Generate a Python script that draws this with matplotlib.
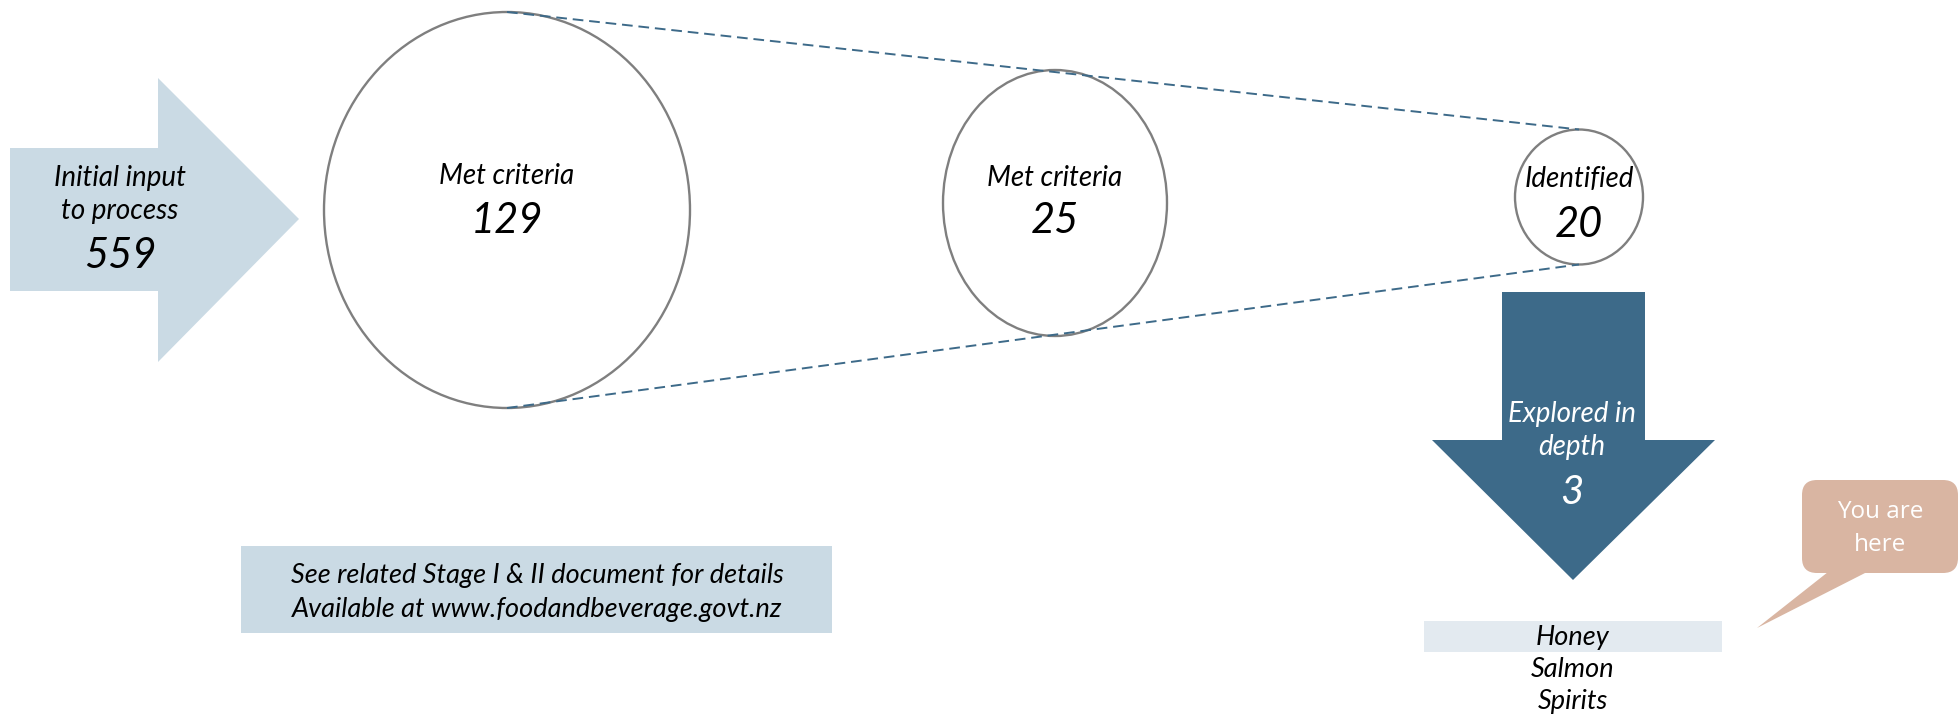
import matplotlib
matplotlib.use("Agg")
import matplotlib.pyplot as plt
from matplotlib.patches import Polygon, Ellipse, Rectangle, FancyBboxPatch

# Funnel content
input_label = "Initial input\nto process"
input_count = 559
stage_labels = ["Met criteria", "Met criteria", "Identified"]
stage_counts = [129, 25, 20]
explored_label = "Explored in\ndepth"
explored_count = 3
products = ["Honey", "Salmon", "Spirits"]
note_lines = ["See related Stage I & II document for details",
              "Available at www.foodandbeverage.govt.nz"]
callout_text = "You are\nhere"

LIGHT_BLUE = "#CADAE4"
DARK_BLUE = "#3D6A89"
GREY = "#7F7F7F"
PALE = "#E3EAF0"
TAN = "#D9B5A2"
FONT = "Lato"
LABEL_FS = 20
COUNT_FS = 30
LINE_GAP = 33


def stacked(x, y, text, **kw):
    """Draw a multi-line label with a fixed pixel gap between lines."""
    for i, line in enumerate(text.split("\n")):
        ax.text(x, y + i * LINE_GAP, line, ha="center", va="center", **kw)


W, H = 1959, 715
fig = plt.figure(figsize=(W / 100, H / 100), dpi=100)
ax = fig.add_axes([0, 0, 1, 1])
ax.set_xlim(0, W)
ax.set_ylim(H, 0)
ax.axis("off")

# Input arrow pointing right
ax.add_patch(Polygon([(10, 148), (158, 148), (158, 78), (299, 219),
                      (158, 362), (158, 291), (10, 291)],
                     closed=True, facecolor=LIGHT_BLUE, edgecolor="none"))
stacked(120, 178, input_label, fontsize=LABEL_FS, style="italic", family=FONT)
ax.text(120, 256, f"{input_count}", ha="center", va="center",
        fontsize=COUNT_FS, style="italic", family=FONT)

# Stage ellipses
centers = [(507, 210), (1055, 203), (1579, 197)]
radii = [(183, 198), (112, 133), (64, 67.5)]
label_y = [176, 178, 179]
count_y = [221, 221, 225]
for (cx, cy), (rx, ry), lab, cnt, ly, ny in zip(centers, radii, stage_labels,
                                                 stage_counts, label_y, count_y):
    ax.add_patch(Ellipse((cx, cy), 2 * rx, 2 * ry, facecolor="white",
                         edgecolor=GREY, lw=1.7, zorder=2))
    ax.text(cx, ly, lab, ha="center", va="center", fontsize=LABEL_FS,
            style="italic", family=FONT, zorder=3)
    ax.text(cx, ny, f"{cnt}", ha="center", va="center", fontsize=COUNT_FS,
            style="italic", family=FONT, zorder=3)

# Dashed funnel outline
(x0, y0), (x1, y1) = centers[0], centers[-1]
(r0x, r0y), (r1x, r1y) = radii[0], radii[-1]
for s in (-1, 1):
    ax.plot([x0, x1], [y0 + s * r0y, y1 + s * r1y], color=DARK_BLUE, lw=1.4,
            linestyle=(0, (5.5, 3)), zorder=4)

# Down arrow
ax.add_patch(Polygon([(1502, 292), (1645, 292), (1645, 440), (1715, 440),
                      (1573, 580), (1432, 440), (1502, 440)],
                     closed=True, facecolor=DARK_BLUE, edgecolor="none"))
stacked(1572, 414, explored_label, fontsize=LABEL_FS, style="italic",
        family=FONT, color="white")
ax.text(1572, 493, f"{explored_count}", ha="center", va="center",
        fontsize=COUNT_FS - 1, style="italic", family=FONT, color="white")

# Product list
ax.add_patch(Rectangle((1424, 621), 298, 31, facecolor=PALE, edgecolor="none"))
for i, p in enumerate(products):
    ax.text(1573, 637 + i * 32.5, p, ha="center", va="center", fontsize=19.5,
            style="italic", family=FONT)

# Note box
ax.add_patch(Rectangle((241, 546), 591, 87, facecolor=LIGHT_BLUE,
                       edgecolor="none"))
for i, line in enumerate(note_lines):
    ax.text(537, 576 + i * 34, line, ha="center", va="center", fontsize=19.5,
            style="italic", family=FONT)

# Callout bubble
ax.add_patch(FancyBboxPatch((1802, 480), 156, 93,
                            boxstyle="round,pad=0,rounding_size=15",
                            facecolor=TAN, edgecolor="none"))
ax.add_patch(Polygon([(1828, 572), (1867, 572), (1757, 628)], closed=True,
                     facecolor=TAN, edgecolor="none"))
stacked(1880, 512, callout_text, fontsize=17.5, family="Open Sans",
        color="white")

fig.savefig("out.png", dpi=100)
